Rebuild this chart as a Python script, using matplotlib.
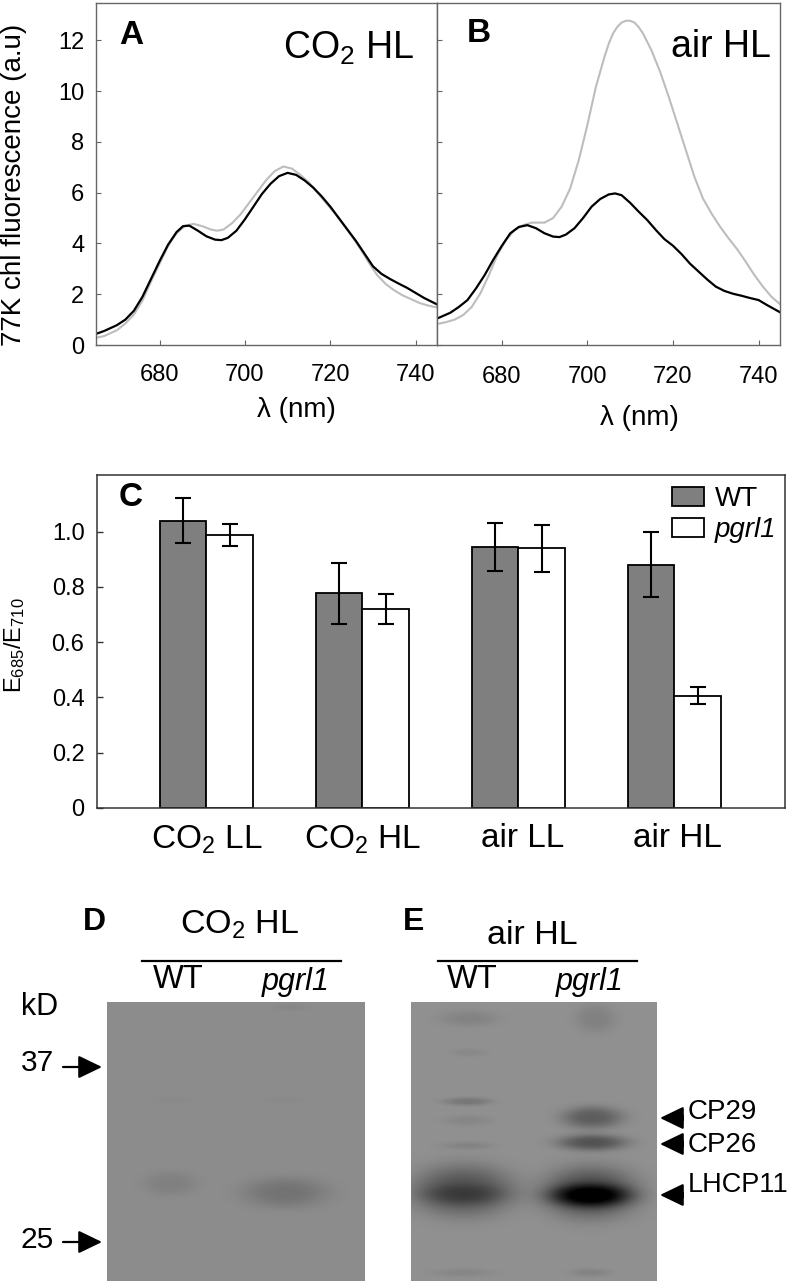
import numpy as np
import matplotlib
matplotlib.use("Agg")
import matplotlib.pyplot as plt

W, H = 789, 1284

plt.rcParams['font.family'] = ['Liberation Sans', 'DejaVu Sans']
plt.rcParams['mathtext.default'] = 'regular'

# Panel A, CO2 HL spectra
a_wt_x = [665, 667, 670, 672, 674, 676, 678, 680, 682, 684, 685.5, 687, 689, 691, 693, 694.5, 696, 698, 700, 702, 704, 706, 708, 710, 712, 714, 716, 718, 720, 722, 724, 726, 728, 730, 732, 734, 736, 738, 740, 742, 745]
a_wt_y = [.43, .55, .78, 1.0, 1.35, 1.9, 2.6, 3.3, 3.95, 4.45, 4.68, 4.7, 4.5, 4.28, 4.15, 4.13, 4.22, 4.5, 4.95, 5.45, 5.95, 6.35, 6.65, 6.78, 6.7, 6.48, 6.2, 5.85, 5.45, 5.0, 4.55, 4.1, 3.6, 3.1, 2.8, 2.6, 2.42, 2.25, 2.05, 1.85, 1.6]
a_mut_x = [665, 667, 670, 672, 674, 676, 678, 680, 682, 684, 686, 688, 690, 692, 693.5, 695, 697, 699, 701, 703, 705, 707, 709, 711, 713, 715, 717, 719, 721, 723, 725, 727, 729, 731, 733, 735, 737, 739, 741, 743, 745]
a_mut_y = [.28, .35, .58, .85, 1.2, 1.75, 2.5, 3.2, 3.9, 4.4, 4.7, 4.77, 4.68, 4.55, 4.5, 4.55, 4.8, 5.15, 5.6, 6.05, 6.5, 6.85, 7.03, 6.95, 6.7, 6.4, 6.0, 5.6, 5.2, 4.75, 4.3, 3.8, 3.25, 2.75, 2.4, 2.15, 1.95, 1.8, 1.65, 1.55, 1.48]

# Panel B, air HL spectra
b_wt_x = [665, 668, 670, 672, 674, 676, 678, 680, 682, 684, 686, 688, 690, 692, 693.5, 695, 697, 699, 701, 703, 705, 706.5, 708, 710, 712, 714, 716, 718, 720, 722, 724, 726, 728, 730, 732, 734, 736, 738, 740, 742, 745]
b_wt_y = [1.05, 1.27, 1.5, 1.77, 2.23, 2.75, 3.35, 3.9, 4.4, 4.65, 4.72, 4.6, 4.4, 4.27, 4.25, 4.35, 4.6, 5.0, 5.45, 5.75, 5.93, 5.97, 5.9, 5.6, 5.25, 4.92, 4.53, 4.17, 3.91, 3.58, 3.2, 2.89, 2.58, 2.3, 2.13, 2.02, 1.94, 1.85, 1.77, 1.57, 1.29]
b_mut_x = [665, 667, 669, 671, 673, 675, 677, 679, 681, 683, 685, 687, 690, 692, 694, 696, 698, 700, 702, 704, 705, 706, 707, 708, 709, 710, 711, 712, 713, 715, 717, 719, 721, 723, 725, 727, 729, 731, 733, 735, 737, 739, 741, 743, 745]
b_mut_y = [.83, .9, 1.0, 1.18, 1.5, 2.03, 2.75, 3.55, 4.13, 4.53, 4.72, 4.82, 4.82, 5.0, 5.45, 6.17, 7.28, 8.66, 10.17, 11.35, 11.87, 12.27, 12.53, 12.7, 12.77, 12.77, 12.7, 12.52, 12.27, 11.6, 10.76, 9.78, 8.73, 7.68, 6.63, 5.77, 5.18, 4.66, 4.2, 3.77, 3.28, 2.76, 2.3, 1.9, 1.61]

# Panel C, bars
conditions = ['CO$_2$ LL', 'CO$_2$ HL', 'air LL', 'air HL']
wt_ratio = [1.04, .777, .945, .88]
wt_err = [.082, .11, .086, .117]
mut_ratio = [.987, .72, .94, .406]
mut_err = [.04, .055, .085, .031]

# Panels D and E, blot bands: x, y, half width, half height, darkness (figure pixels)
d_bands = [(170, 1183, 27, 12, .05), (285, 1192, 42, 15, .10),
           (173, 1099, 22, 4, .012), (283, 1099, 24, 4, .012), (290, 1007, 18, 4, .02)]
e_bands = [(463, 1190, 50, 25, .24), (463, 1194, 42, 10, .10), (590, 1192, 46, 25, .28),
           (590, 1195, 40, 11, .36), (592, 1117, 30, 11, .20), (592, 1142, 34, 8, .24),
           (467, 1101, 24, 4, .10), (467, 1120, 24, 5, .04), (467, 1145, 26, 4, .05),
           (468, 1018, 30, 8, .05), (468, 1052, 18, 4, .03), (595, 1018, 20, 14, .06),
           (462, 1272, 30, 4, .04), (590, 1272, 20, 4, .05)]


def px_axes(x0, y0, x1, y1):
    return fig.add_axes([x0 / W, 1 - y1 / H, (x1 - x0) / W, (y1 - y0) / H])


def blot(x0, y0, x1, y1, bands, base):
    ax = px_axes(x0, y0, x1, y1)
    xx, yy = np.meshgrid(np.arange(x0, x1), np.arange(y0, y1))
    img = np.full(xx.shape, base)
    for bx, by, bw, bh, dark in bands:
        r2 = ((xx - bx) / bw) ** 2 + ((yy - by) / bh) ** 2
        img = img - dark * np.exp(-r2 ** 1.4)  # flatter than a gaussian, like a real band
    ax.imshow(np.clip(img, 0, 1), cmap='gray', vmin=0, vmax=1, aspect='auto')
    ax.axis('off')


fig = plt.figure(figsize=(W / 100, H / 100), dpi=100)

# spectra
for i, (x0, x1) in enumerate([(95.5, 437), (437.5, 780)]):
    ax = px_axes(x0, 3, x1, 345)
    if i == 0:
        ax.plot(a_mut_x, a_mut_y, color='#bdbdbd', lw=1.5)
        ax.plot(a_wt_x, a_wt_y, color='black', lw=1.6)
    else:
        ax.plot(b_mut_x, b_mut_y, color='#bdbdbd', lw=1.5)
        ax.plot(b_wt_x, b_wt_y, color='black', lw=1.6)
    ax.set_xlim(665, 745)
    ax.set_ylim(0, 13.47)
    ax.set_xticks([680, 700, 720, 740])
    ax.set_yticks([0, 2, 4, 6, 8, 10, 12])
    ax.tick_params(direction='in', length=3.5, width=.8, color='#666666', labelsize=17)
    ax.tick_params(axis='x', pad=14 + i)
    ax.tick_params(axis='y', pad=8)
    if i == 1:
        ax.tick_params(labelleft=False)
    for s in ax.spines.values():
        s.set_color('#666666')
        s.set_linewidth(1)

# bars
ax = px_axes(97, 475, 785, 808)
pos = np.arange(len(conditions))
bw = .3
cap = dict(elinewidth=1.5, capsize=5.5, capthick=1.5, ecolor='black')
ax.bar(pos - bw / 2, wt_ratio, bw, yerr=wt_err, color='#7f7f7f', edgecolor='black', lw=1.3, label='WT', error_kw=cap)
ax.bar(pos + bw / 2, mut_ratio, bw, yerr=mut_err, color='white', edgecolor='black', lw=1.3, label='pgrl1', error_kw=cap)
ax.set_xlim(-.702, 3.71)
ax.set_ylim(0, 1.205)
ax.set_yticks([0, .2, .4, .6, .8, 1.0])
ax.set_yticklabels(['0', '0.2', '0.4', '0.6', '0.8', '1.0'], fontsize=17)
ax.set_xticks([0, 1, 2.03, 3.02])
ax.set_xticklabels(conditions, fontsize=24)
ax.tick_params(axis='y', direction='in', length=4, width=1, color='#333333', pad=9)
ax.tick_params(axis='x', length=0, pad=11)
for s in ax.spines.values():
    s.set_color('#333333')
    s.set_linewidth(1.1)
leg = ax.legend(loc='upper right', frameon=False, fontsize=20, handlelength=1.15, handleheight=.65,
                labelspacing=.18, handletextpad=.4, borderaxespad=0, bbox_to_anchor=(1.004, 1.0))
leg.get_texts()[1].set_style('italic')

blot(107, 1002, 365, 1281, d_bands, .55)
blot(411, 1002, 657, 1281, e_bands, .565)

# everything else is placed in figure pixels
ov = fig.add_axes([0, 0, 1, 1], zorder=10)
ov.set_xlim(0, W)
ov.set_ylim(H, 0)
ov.axis('off')
ov.patch.set_alpha(0)


def label(x, y, s, size, **kw):
    kw.setdefault('ha', 'center')
    kw.setdefault('va', 'center')
    ov.text(x, y, s, fontsize=size, **kw)


label(14, 185, '77K chl fluorescence (a.u)', 20, rotation=90)
label(296, 410, 'λ (nm)', 20)
label(639, 418, 'λ (nm)', 20)
label(349, 48, 'CO$_2$ HL', 27)
label(721, 47, 'air HL', 27)
label(15, 645, 'E$_{685}$/E$_{710}$', 17, rotation=90)

for x, y, s, size in [(131, 35, 'A', 24), (479, 33, 'B', 24), (131, 498, 'C', 24), (94, 922, 'D', 23), (414, 922, 'E', 23)]:
    label(x, y, s, size, weight='bold')

label(240, 925, 'CO$_2$ HL', 24.5)
label(532, 935, 'air HL', 24.5)
for x0, x1 in [(142, 341), (438, 637)]:
    ov.plot([x0, x1], [960.5, 960.5], color='black', lw=1.6)
label(178, 980, 'WT', 23.5)
label(296, 982, 'pgrl1', 22, style='italic')
label(472, 980, 'WT', 23.5)
label(590, 982, 'pgrl1', 22, style='italic')
label(40, 1007, 'kD', 22)
label(37, 1063, '37', 21.5)
label(37, 1240, '25', 21.5)

arrow = dict(arrowstyle='-|>,head_width=.7,head_length=1.45', color='black', lw=1.6, shrinkA=0, shrinkB=0)
for y in [1067, 1242]:
    ov.annotate('', xy=(102, y), xytext=(63, y), arrowprops=arrow)
for y in [1118, 1144, 1195]:
    ov.plot([676, 684], [y, y], color='black', lw=4.5, solid_capstyle='butt')
    ov.annotate('', xy=(660, y), xytext=(680, y), arrowprops=arrow)
label(688, 1112, 'CP29', 20, ha='left')
label(688, 1145, 'CP26', 20, ha='left')
label(688, 1185, 'LHCP11', 19.5, ha='left')

fig.savefig('out.png', dpi=100)
